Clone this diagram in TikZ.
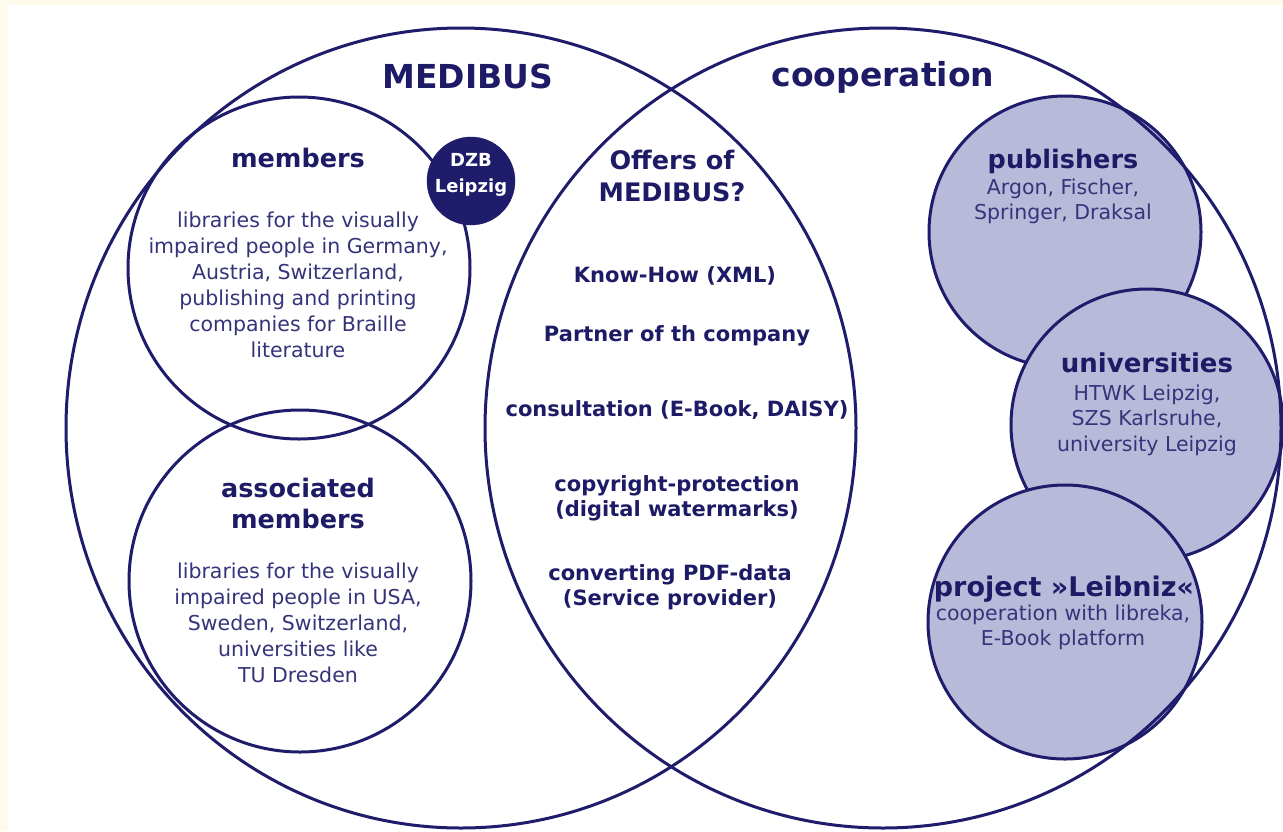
\documentclass[tikz,border=0pt]{standalone}
\usepackage{fontspec}
\setmainfont{DejaVu Sans}
\definecolor{navy}{HTML}{1F1C6B}
\definecolor{titlecol}{HTML}{1E1B66}
\definecolor{bodycol}{HTML}{35347A}
\definecolor{lav}{HTML}{B9B9DA}
\definecolor{cream}{HTML}{FFFBEC}
\begin{document}
\begin{tikzpicture}[x=1pt,y=-1pt,
  outline/.style={draw=navy,line width=3pt},
  group/.style={outline,fill=lav},
  bigtitle/.style={anchor=base,text=titlecol,font=\fontsize{33}{38}\selectfont\bfseries,inner sep=0pt},
  headtxt/.style={anchor=base,text=titlecol,align=center,font=\fontsize{25.5}{31}\selectfont\bfseries,inner sep=0pt},
  bodytxt/.style={anchor=base,text=bodycol,align=center,font=\fontsize{20.5}{26}\selectfont,inner sep=0pt},
  offertxt/.style={anchor=base,text=titlecol,align=center,font=\fontsize{21}{25}\selectfont\bfseries,inner sep=0pt},
  offerhead/.style={anchor=base,text=titlecol,align=center,font=\fontsize{25.5}{32}\selectfont\bfseries,inner sep=0pt}]
\useasboundingbox (0,0) rectangle (1283,831);
\fill[cream] (0,0) rectangle (1283,831);
\fill[white] (8,5) rectangle (1283,831);

% right group circles
\draw[group] (1065,232) circle (136);
\draw[group] (1147,425) circle (136);
\draw[group] (1065,622) circle (137);

% big ellipses
\draw[outline] (461,428) ellipse [x radius=395, y radius=400];
\draw[outline] (883,428) ellipse [x radius=398, y radius=400];

% members / associated
\draw[outline] (299,268) circle (171);
\draw[outline] (300,581) circle (171);

% DZB
\node[circle,fill=navy,draw=navy,minimum size=88pt,inner sep=0pt] (dzb) at (471,181) {};
\node[anchor=base,text=white,align=center,font=\fontsize{18}{26}\selectfont\bfseries,inner sep=0pt] (dzbt) at (471,192) {DZB\\Leipzig};

\node[bigtitle] (medibus) at (468,88) {MEDIBUS};
\node[bigtitle] (coop) at (883,86) {cooperation};

\node[headtxt] (memh) at (298,167) {members};
\node[bodytxt] (memb) at (298,357) {libraries for the visually\\impaired people in Germany,\\Austria, Switzerland,\\publishing and printing\\companies for Braille\\literature};

\node[headtxt] (assh) at (298,528) {associated\\members};
\node[bodytxt] (assb) at (298,682) {libraries for the visually\\impaired people in USA,\\Sweden, Switzerland,\\universities like\\TU Dresden};

\node[offerhead] (offh) at (672,201) {Offers of\\MEDIBUS?};
\node[offertxt] (o1) at (675,282) {Know-How (XML)};
\node[offertxt] (o2) at (677,341) {Partner of th company};
\node[offertxt] (o3) at (677,416) {consultation (E-Book, DAISY)};
\node[offertxt] (o4) at (677,516) {copyright-protection\\(digital watermarks)};
\node[offertxt] (o5) at (670,605) {converting PDF-data\\(Service provider)};

\node[headtxt] (pubh) at (1063,168) {publishers};
\node[bodytxt,font=\fontsize{20.5}{25}\selectfont] (pubb) at (1063,219) {Argon, Fischer,\\Springer, Draksal};

\node[headtxt,font=\fontsize{26}{31}\selectfont\bfseries] (unih) at (1147,372) {universities};
\node[bodytxt,font=\fontsize{20.5}{25.5}\selectfont] (unib) at (1147,451) {HTWK Leipzig,\\SZS Karlsruhe,\\university Leipzig};

\node[headtxt,font=\fontsize{27}{31}\selectfont\bfseries] (leih) at (1064,596) {project »Leibniz«};
\node[bodytxt,font=\fontsize{20.5}{24.5}\selectfont] (leib) at (1063,645) {cooperation with libreka,\\E-Book platform};
\end{tikzpicture}
\end{document}
